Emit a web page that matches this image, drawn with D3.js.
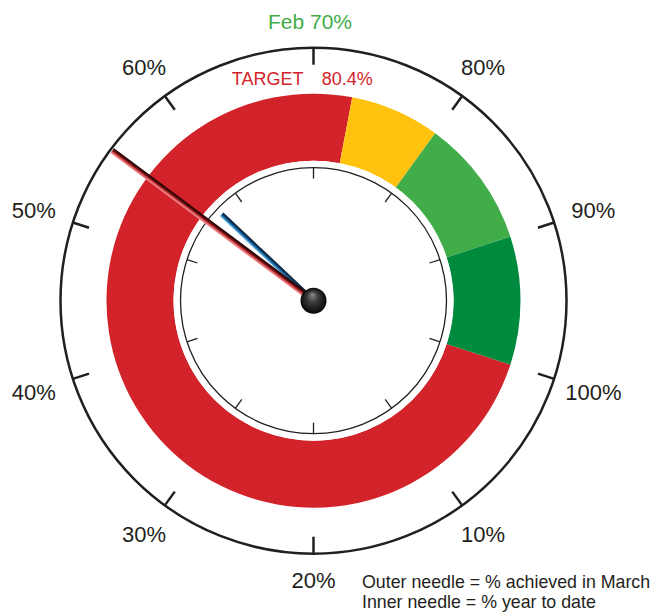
<!DOCTYPE html>
<html lang="en">
<head>
<meta charset="UTF-8">
<title>Gauge</title>
<style>
    html,body { margin:0; padding:0; background:#fff; }
    svg { display:block; font-family:"Liberation Sans", Arial, sans-serif; }
</style>
<script src="https://cdn.jsdelivr.net/npm/d3@7/dist/d3.min.js"></script>
</head>
<body>
<svg width="665" height="616"></svg>
<script>
// values
const tickValues  = [10, 20, 30, 40, 50, 60, 70, 80, 90, 100];
const tickLabels  = ["10%", "20%", "30%", "40%", "50%", "60%", "Feb 70%", "80%", "90%", "100%"];
const monthLabel  = "Feb 70%";
const bandFrom    = [0, 73, 80, 90];
const bandTo      = [73, 80, 90, 100];
const bandColors  = ["#d2232a", "#ffc20e", "#41ad49", "#008a3e"];
const targetValue = 80.4;
const outerNeedle = 55.2;   // % achieved in March
const innerNeedle = 57.0;   // % year to date
const legendLines = ["Outer needle = % achieved in March", "Inner needle = % year to date"];

const cx = 313.5, cy = 300.7;
const R_OUT = 253, R_BAND_OUT = 207, R_BAND_IN = 140, R_DIAL = 133;

// 0% sits at 108deg clockwise from top, one full turn for 100%
const ang = d3.scaleLinear().domain([0, 100]).range([108 * Math.PI / 180, 468 * Math.PI / 180]);
const deg = v => ang(v) * 180 / Math.PI;

const svg = d3.select("svg");
const defs = svg.append("defs");

const g = svg.append("g").attr("transform", `translate(${cx},${cy})`);

// colour bands
const arc = d3.arc().innerRadius(R_BAND_IN).outerRadius(R_BAND_OUT);
g.selectAll(".band").data(bandFrom)
    .enter().append("path").attr("class", "band")
    .attr("d", (d, i) => arc({startAngle: ang(d), endAngle: ang(bandTo[i])}))
    .attr("fill", (d, i) => bandColors[i]);

// outer ring + ticks
g.append("circle").attr("r", R_OUT).attr("fill", "none")
    .attr("stroke", "#231f20").attr("stroke-width", 2.5);

const radial = (v, r) => [Math.sin(ang(v)) * r, -Math.cos(ang(v)) * r];

g.selectAll(".otick").data(tickValues)
    .enter().append("line").attr("class", "otick")
    .attr("x1", d => radial(d, R_OUT - 17)[0]).attr("y1", d => radial(d, R_OUT - 17)[1])
    .attr("x2", d => radial(d, R_OUT)[0]).attr("y2", d => radial(d, R_OUT)[1])
    .attr("stroke", "#231f20").attr("stroke-width", 2.5);

// labels
g.selectAll(".lbl").data(tickValues)
    .enter().append("text").attr("class", "lbl")
    .attr("x", d => radial(d, 279 + 16 * Math.abs(Math.sin(ang(d))))[0] - (tickLabels[tickValues.indexOf(d)] === monthLabel ? 3.5 : 0))
    .attr("y", d => radial(d, 279 + 16 * Math.abs(Math.sin(ang(d))))[1])
    .attr("dy", "0.36em")
    .attr("text-anchor", "middle")
    .attr("font-size", (d, i) => tickLabels[i] === monthLabel ? 21 : 22)
    .attr("fill", (d, i) => tickLabels[i] === monthLabel ? "#41ad49" : "#231f20")
    .text((d, i) => tickLabels[i]);

// target label
const tgt = svg.append("text").attr("x", 303.5).attr("y", 85)
    .attr("font-size", 18).attr("fill", "#d2232a");
tgt.append("tspan").attr("text-anchor", "end").text("TARGET");
svg.append("text").attr("x", 321.7).attr("y", 85)
    .attr("font-size", 18).attr("fill", "#d2232a")
    .text(targetValue.toFixed(1) + "%");

// inner dial
g.append("circle").attr("r", R_BAND_IN).attr("fill", "#fff");
g.append("circle").attr("r", R_DIAL).attr("fill", "#fff")
    .attr("stroke", "#231f20").attr("stroke-width", 1.3);
g.selectAll(".itick").data(tickValues)
    .enter().append("line").attr("class", "itick")
    .attr("x1", d => radial(d, R_DIAL - 11)[0]).attr("y1", d => radial(d, R_DIAL - 11)[1])
    .attr("x2", d => radial(d, R_DIAL)[0]).attr("y2", d => radial(d, R_DIAL)[1])
    .attr("stroke", "#231f20").attr("stroke-width", 1.3);

// needle gradients (across the needle width)
const grad = (id, stops) => {
    const lg = defs.append("linearGradient").attr("id", id)
        .attr("x1", 0).attr("x2", 1).attr("y1", 0).attr("y2", 0);
    stops.forEach(s => lg.append("stop").attr("offset", s[0]).attr("stop-color", s[1]));
};
grad("redNeedle", [[0, "#f49a9a"], [0.3, "#e0595c"], [0.5, "#8e1a1e"], [0.75, "#3a0606"], [1, "#2a0303"]]);
grad("blueNeedle", [[0, "#8fc8ee"], [0.35, "#1f78b4"], [0.6, "#0b3f6b"], [1, "#06142a"]]);

const needle = (v, len, w, fill) => {
    g.append("rect")
        .attr("x", -w / 2).attr("y", -len).attr("width", w).attr("height", len)
        .attr("fill", fill)
        .attr("transform", `rotate(${deg(v)})`);
};
needle(innerNeedle, 126, 5, "url(#blueNeedle)");
needle(outerNeedle, 251, 6, "url(#redNeedle)");

// knob
const rg = defs.append("radialGradient").attr("id", "knob")
    .attr("cx", 0.5).attr("cy", 0.5).attr("r", 0.5).attr("fx", 0.45).attr("fy", 0.25);
rg.append("stop").attr("offset", 0).attr("stop-color", "#8a8a8a");
rg.append("stop").attr("offset", 0.45).attr("stop-color", "#3a3a3a");
rg.append("stop").attr("offset", 1).attr("stop-color", "#050505");
g.append("circle").attr("r", 13).attr("fill", "url(#knob)");

// legend
svg.selectAll(".leg").data(legendLines)
    .enter().append("text").attr("class", "leg")
    .attr("x", 362).attr("y", (d, i) => 588 + i * 20)
    .attr("font-size", 17.8).attr("fill", "#231f20")
    .text(d => d);
</script>
</body>
</html>
